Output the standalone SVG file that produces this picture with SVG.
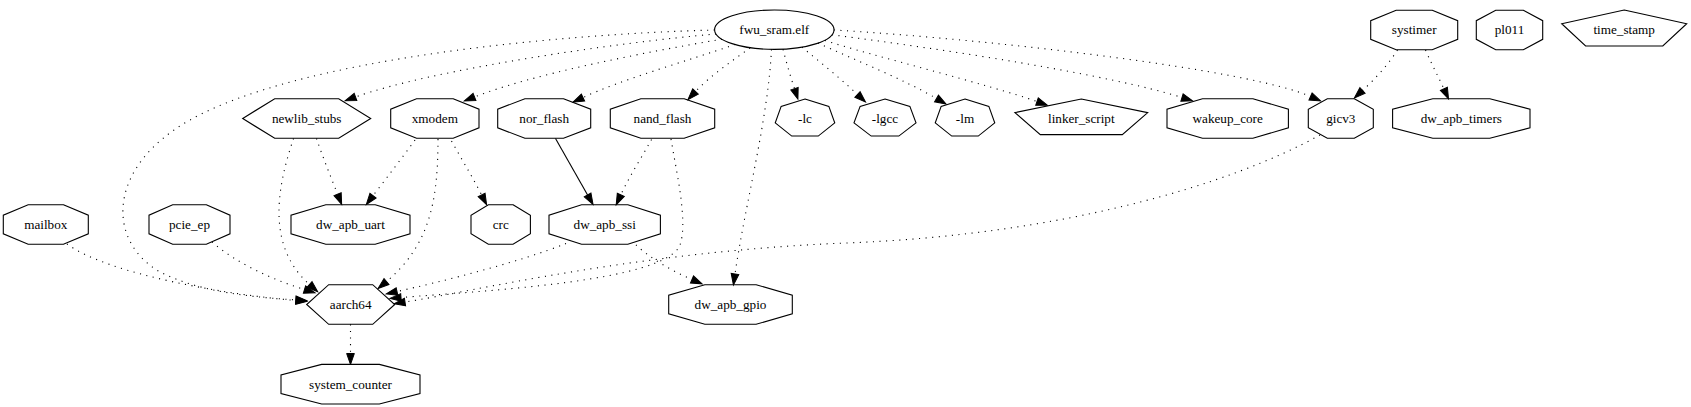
<svg xmlns="http://www.w3.org/2000/svg" width="1691" height="407" viewBox="0 0 1691 407">
<style>
.n polygon, .n ellipse { fill: none; stroke: #000; stroke-width: 1.1; }
.n text { font-family: "Liberation Serif", "Times New Roman", serif; font-size: 13.2px; text-anchor: middle; fill: #000; }
.e path { fill: none; stroke: #000; stroke-width: 1.1; stroke-dasharray: 1.1,5.5; marker-end: url(#ah); }
.e path.solid { stroke-dasharray: none; }
</style>
<defs>
<marker id="ah" markerUnits="userSpaceOnUse" markerWidth="14" markerHeight="10" refX="0" refY="5" orient="auto" overflow="visible" viewBox="0 0 14 10">
<path d="M0,1.15 L11,5 L0,8.85 Z" fill="#000" stroke="#000" stroke-width="1"/>
</marker>
</defs>
<rect width="1691" height="407" fill="#fff"/>
<g id="edges" class="e">
<path d="M714.6,30 C560,34 300,58 190,120 C108,166 105,240 160,272 C200,292 250,297 295.8,299.9"/>
<path d="M716,34 C620,42 430,70 355.5,97"/>
<path d="M722,39.2 C640,53 530,75 474.5,97"/>
<path d="M735,44.5 C690,60 620,80 583,97.5"/>
<path d="M750,48 C732,61 710,76 695.5,91.5"/>
<path d="M771.5,49.4 C768,120 745,205 735,274"/>
<path d="M783,49.2 C787,65 791,78 794.5,88.7"/>
<path d="M802,47.2 C820,62 840,78 857.5,94.5"/>
<path d="M818,43.1 C855,60 905,80 936.5,98.5"/>
<path d="M825,40.5 C870,55 990,85 1037,101.5"/>
<path d="M832,34.8 C950,50 1110,75 1182,97.5"/>
<path d="M834,30 C1000,40 1250,70 1310.5,96.5"/>
<path d="M1397.5,50 C1388,65 1374,80 1362.5,90.5"/>
<path d="M1425.5,50 C1432,65 1438,76 1443.9,88.8"/>
<path d="M316.5,138.5 C322,155 330,175 337.6,194.2"/>
<path d="M293.5,138.5 C278,185 265,245 309.5,284.5"/>
<path d="M415,140 C402,158 388,176 373,195.7"/>
<path d="M451.5,141 C462,160 472,176 481.6,194.9"/>
<path d="M438,139 C438,200 430,245 386.5,281.5"/>
<path class="solid" d="M555.5,138.5 L587.6,194.9"/>
<path d="M651.5,139.5 C642,157 630,175 620.8,194.9"/>
<path d="M671,139 C677,175 688,222 680,245 C665,282 480,291 401,297.5"/>
<path d="M636,245 C650,258 670,270 692,279.5"/>
<path d="M566,243.5 C520,262 440,282 397,291.5"/>
<path d="M1320,135 C1230,185 1060,235 846,243 C640,251 470,292 405,302"/>
<path d="M67,244 C110,275 230,295 296,300.5"/>
<path d="M212,242 C235,262 270,279 304.5,289.5"/>
<path d="M350.5,324.3 L350.5,353.5"/>
</g>
<g id="fwu_sram_elf" class="n"><ellipse cx="774.3" cy="29.7" rx="59.7" ry="19.7"/><text x="774.3" y="34">fwu_sram.elf</text></g>
<g id="systimer" class="n"><polygon points="1432.25,10.2 1457.7,20.7 1457.7,39.3 1432.25,49.8 1396.15,49.8 1370.7,39.3 1370.7,20.7 1396.15,10.2"/><text x="1414.2" y="34.3">systimer</text></g>
<g id="pl011" class="n"><polygon points="1523.28,10.2 1542.7,20.7 1542.7,39.3 1523.28,49.8 1495.72,49.8 1476.3,39.3 1476.3,20.7 1495.72,10.2"/><text x="1509.5" y="34.3">pl011</text></g>
<g id="time_stamp" class="n"><polygon points="1624.2,10 1686.7,23.75 1662.8,46 1585.6,46 1561.7,23.75"/><text x="1624.2" y="34.3">time_stamp</text></g>
<g id="newlib_stubs" class="n"><polygon points="370.7,118.5 338.7,138.3 274.7,138.3 242.7,118.5 274.7,98.7 338.7,98.7"/><text x="306.7" y="122.8">newlib_stubs</text></g>
<g id="xmodem" class="n"><polygon points="453.17,98.7 479,109.2 479,127.8 453.17,138.3 416.53,138.3 390.7,127.8 390.7,109.2 416.53,98.7"/><text x="434.85" y="122.8">xmodem</text></g>
<g id="nor_flash" class="n"><polygon points="563.5,98.7 590.7,109.2 590.7,127.8 563.5,138.3 524.9,138.3 497.7,127.8 497.7,109.2 524.9,98.7"/><text x="544.2" y="122.8">nor_flash</text></g>
<g id="nand_flash" class="n"><polygon points="684.16,98.7 714.7,109.2 714.7,127.8 684.16,138.3 640.84,138.3 610.3,127.8 610.3,109.2 640.84,98.7"/><text x="662.5" y="122.8">nand_flash</text></g>
<g id="lc" class="n"><polygon points="805,99 828.85,106.35 834.74,122.84 818.24,136.07 791.76,136.07 775.26,122.84 781.15,106.35"/><text x="805" y="122.8">-lc</text></g>
<g id="lgcc" class="n"><polygon points="885,99 909.87,106.35 916,122.84 898.8,136.07 871.2,136.07 854,122.84 860.13,106.35"/><text x="885" y="122.8">-lgcc</text></g>
<g id="lm" class="n"><polygon points="965,99 988.85,106.35 994.74,122.84 978.24,136.07 951.76,136.07 935.26,122.84 941.15,106.35"/><text x="965" y="122.8">-lm</text></g>
<g id="linker_script" class="n"><polygon points="1081.3,99 1147.7,112.6 1122.3,134.6 1040.3,134.6 1014.9,112.6"/><text x="1081.3" y="122.8">linker_script</text></g>
<g id="wakeup_core" class="n"><polygon points="1252.89,98.7 1288.4,109.2 1288.4,127.8 1252.89,138.3 1202.51,138.3 1167,127.8 1167,109.2 1202.51,98.7"/><text x="1227.7" y="122.8">wakeup_core</text></g>
<g id="gicv3" class="n"><polygon points="1354.29,98.7 1373.3,109.2 1373.3,127.8 1354.29,138.3 1327.31,138.3 1308.3,127.8 1308.3,109.2 1327.31,98.7"/><text x="1340.8" y="122.8">gicv3</text></g>
<g id="dw_apb_timers" class="n"><polygon points="1489.81,98.7 1530,109.2 1530,127.8 1489.81,138.3 1432.79,138.3 1392.6,127.8 1392.6,109.2 1432.79,98.7"/><text x="1461.3" y="122.8">dw_apb_timers</text></g>
<g id="mailbox" class="n"><polygon points="63.44,204.7 88.3,215.2 88.3,233.8 63.44,244.3 28.16,244.3 3.3,233.8 3.3,215.2 28.16,204.7"/><text x="45.8" y="228.8">mailbox</text></g>
<g id="pcie_ep" class="n"><polygon points="206.31,204.7 230,215.2 230,233.8 206.31,244.3 172.69,244.3 149,233.8 149,215.2 172.69,204.7"/><text x="189.5" y="228.8">pcie_ep</text></g>
<g id="dw_apb_uart" class="n"><polygon points="375.19,204.7 410,215.2 410,233.8 375.19,244.3 325.81,244.3 291,233.8 291,215.2 325.81,204.7"/><text x="350.5" y="228.8">dw_apb_uart</text></g>
<g id="crc" class="n"><polygon points="513.03,204.7 530.4,215.2 530.4,233.8 513.03,244.3 488.37,244.3 471,233.8 471,215.2 488.37,204.7"/><text x="500.7" y="228.8">crc</text></g>
<g id="dw_apb_ssi" class="n"><polygon points="627.82,204.7 660.4,215.2 660.4,233.8 627.82,244.3 581.58,244.3 549,233.8 549,215.2 581.58,204.7"/><text x="604.7" y="228.8">dw_apb_ssi</text></g>
<g id="aarch64" class="n"><polygon points="394.7,304.5 372.7,324.3 328.7,324.3 306.7,304.5 328.7,284.7 372.7,284.7"/><text x="350.7" y="308.8">aarch64</text></g>
<g id="dw_apb_gpio" class="n"><polygon points="756.15,284.7 792.3,295.2 792.3,313.8 756.15,324.3 704.85,324.3 668.7,313.8 668.7,295.2 704.85,284.7"/><text x="730.5" y="308.8">dw_apb_gpio</text></g>
<g id="system_counter" class="n"><polygon points="379.34,364.4 420,374.9 420,393.5 379.34,404 321.66,404 281,393.5 281,374.9 321.66,364.4"/><text x="350.5" y="388.5">system_counter</text></g>
</svg>
